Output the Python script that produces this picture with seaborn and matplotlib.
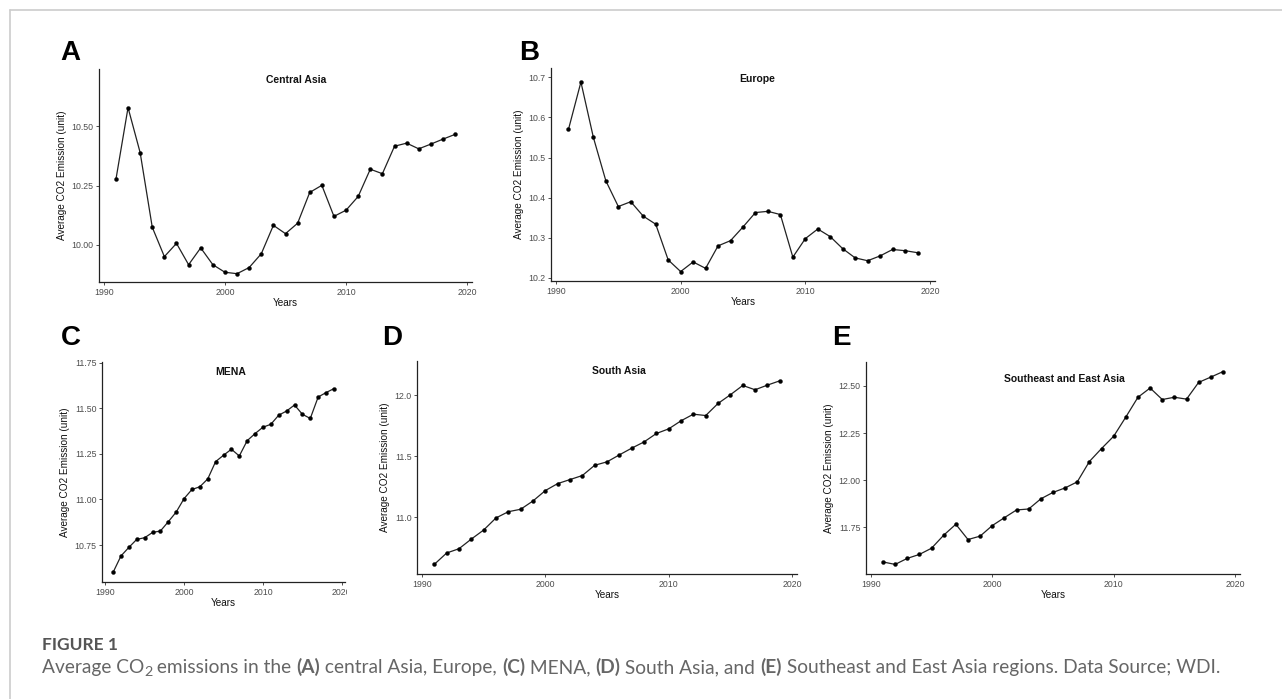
import numpy as np
import pandas as pd
import matplotlib
matplotlib.use("Agg")
import matplotlib.pyplot as plt
import seaborn as sns
from matplotlib.lines import Line2D
from matplotlib.transforms import Bbox

sns.set_style("ticks")
plt.rcParams["font.family"] = ["Liberation Sans", "DejaVu Sans"]

years = list(range(1991, 2020))

central_asia = [10.276, 10.579, 10.389, 10.074, 9.950, 10.006, 9.916, 9.987, 9.916, 9.884,
                9.878, 9.904, 9.962, 10.082, 10.047, 10.091, 10.221, 10.251, 10.120, 10.146,
                10.204, 10.319, 10.300, 10.416, 10.429, 10.405, 10.425, 10.446, 10.466]
europe = [10.570, 10.688, 10.550, 10.442, 10.378, 10.390, 10.354, 10.334, 10.245, 10.216,
          10.240, 10.224, 10.280, 10.293, 10.327, 10.363, 10.366, 10.358, 10.252, 10.298,
          10.322, 10.303, 10.273, 10.250, 10.243, 10.255, 10.271, 10.268, 10.263]
mena = [10.600, 10.690, 10.737, 10.781, 10.790, 10.819, 10.827, 10.878, 10.931, 11.005,
        11.055, 11.070, 11.113, 11.208, 11.243, 11.276, 11.239, 11.323, 11.362, 11.397,
        11.413, 11.463, 11.486, 11.519, 11.468, 11.445, 11.563, 11.587, 11.609]
south_asia = [10.615, 10.708, 10.743, 10.822, 10.896, 10.995, 11.046, 11.066, 11.134, 11.219,
              11.276, 11.309, 11.342, 11.426, 11.454, 11.511, 11.566, 11.617, 11.686, 11.724,
              11.790, 11.844, 11.833, 11.932, 12.003, 12.079, 12.044, 12.082, 12.117]
se_east_asia = [11.566, 11.553, 11.585, 11.606, 11.639, 11.708, 11.766, 11.685, 11.703, 11.759,
                11.801, 11.842, 11.847, 11.901, 11.935, 11.959, 11.991, 12.099, 12.168, 12.233,
                12.335, 12.440, 12.489, 12.428, 12.440, 12.430, 12.519, 12.547, 12.576]

regions = ["Central Asia", "Europe", "MENA", "South Asia", "Southeast and East Asia"]
letters = ["A", "B", "C", "D", "E"]
series = [central_asia, europe, mena, south_asia, se_east_asia]
yticks = [[10.00, 10.25, 10.50], [10.2, 10.3, 10.4, 10.5, 10.6, 10.7],
          [10.75, 11.00, 11.25, 11.50, 11.75], [11.0, 11.5, 12.0],
          [11.75, 12.00, 12.25, 12.50]]
yfmt = ["{:.2f}", "{:.1f}", "{:.2f}", "{:.1f}", "{:.2f}"]
ylims = [(9.843, 10.742), (10.1925, 10.723), (10.547, 11.755), (10.536, 12.279), (11.502, 12.627)]

# layout (figure fractions) and title placement
boxes = [[0.0772, 0.5966, 0.2910, 0.3047],
         [0.4298, 0.5980, 0.2995, 0.3047],
         [0.0796, 0.1674, 0.1895, 0.3147],
         [0.3253, 0.1788, 0.2964, 0.3047],
         [0.6755, 0.1788, 0.2917, 0.3033]]
title_pos = [(0.528, 0.95), (0.536, 0.948), (0.531, 0.953), (0.532, 0.952), (0.532, 0.92)]
letter_pos = [(60, 53), (519, 53), (61, 338), (382, 338), (832, 338)]

fig = plt.figure(figsize=(12.82, 6.99), dpi=100)

axes = []
for i in range(5):
    ax = fig.add_axes(boxes[i])
    axes.append(ax)
    df = pd.DataFrame({"Years": years, "CO2": series[i]})
    sns.lineplot(data=df, x="Years", y="CO2", ax=ax, color="#222222", linewidth=0.9)
    sns.scatterplot(data=df, x="Years", y="CO2", ax=ax, color="black", s=8,
                    edgecolor="black", linewidth=0.3, zorder=3)
    ax.set_xlim(1989.6, 2020.4)
    ax.set_ylim(*ylims[i])
    ax.set_xticks([1990, 2000, 2010, 2020])
    ax.set_yticks(yticks[i])
    ax.set_yticklabels([yfmt[i].format(v) for v in yticks[i]])
    ax.tick_params(axis="both", labelsize=6.3, labelcolor="#4d4d4d", length=2.5,
                   width=0.6, color="#333333", pad=1.5)
    for sp in ["left", "bottom"]:
        ax.spines[sp].set_linewidth(0.9)
        ax.spines[sp].set_color("#222222")
    sns.despine(ax=ax)
    ax.set_xlabel("Years", fontsize=7.2, color="#111111", labelpad=1)
    ax.set_ylabel("Average CO2 Emission (unit)", fontsize=7.2, color="#111111", labelpad=3)
    ax.text(title_pos[i][0], title_pos[i][1], regions[i], transform=ax.transAxes,
            ha="center", va="center", fontsize=7.5, fontweight="bold", color="#111111")
    fig.text(letter_pos[i][0] / 1282, 1 - letter_pos[i][1] / 699, letters[i],
             ha="left", va="center", fontsize=20, fontweight="bold", color="black")

# panel C's last tick label is cut off at the panel edge in the original
last = axes[2].xaxis.get_major_ticks()[-1].label1
last.set_clip_box(Bbox([[0, 0], [347, 699]]))
last.set_clip_on(True)

# grey frame (top and left edges)
fig.add_artist(Line2D([10 / 1282, 10 / 1282], [0, 1 - 10 / 699], transform=fig.transFigure,
                      color="#cccccc", linewidth=1.2))
fig.add_artist(Line2D([10 / 1282, 1], [1 - 10 / 699, 1 - 10 / 699], transform=fig.transFigure,
                      color="#cccccc", linewidth=1.2))

# caption
fig.text(42 / 1282, 1 - 645 / 699, "FIGURE 1", family="Lato", fontweight="bold",
         fontsize=12.5, color="#555555", ha="left", va="center")

# (text, weight, is_subscript)
pieces = [("Average CO", "normal", False), ("2", "normal", True),
          (" emissions in the ", "normal", False), ("(A)", "bold", False),
          (" central Asia, Europe, ", "normal", False), ("(C)", "bold", False),
          (" MENA, ", "normal", False), ("(D)", "bold", False),
          (" South Asia, and ", "normal", False), ("(E)", "bold", False),
          (" Southeast and East Asia regions. Data Source; WDI.", "normal", False)]

renderer = fig.canvas.get_renderer()
x0 = 42
target_w = 1218 - 42
base_y = 673


def lay_out(size, texts=None):
    x = x0
    out = []
    for k, (s, w, sub) in enumerate(pieces):
        fs = size * 0.75 if sub else size
        y = base_y + (size * 0.2 if sub else 0)
        if texts is None:
            t = fig.text(0, 0, s, family="Lato", fontweight=w, color="#666666",
                         ha="left", va="baseline")
        else:
            t = texts[k]
        t.set_fontsize(fs)
        t.set_position((x / 1282, 1 - y / 699))
        out.append(t)
        x += t.get_window_extent(renderer).width
    return out, x - x0


texts, w = lay_out(12.0)
texts, w = lay_out(12.0 * target_w / w, texts)

fig.savefig("out.png", dpi=100, facecolor="white")
